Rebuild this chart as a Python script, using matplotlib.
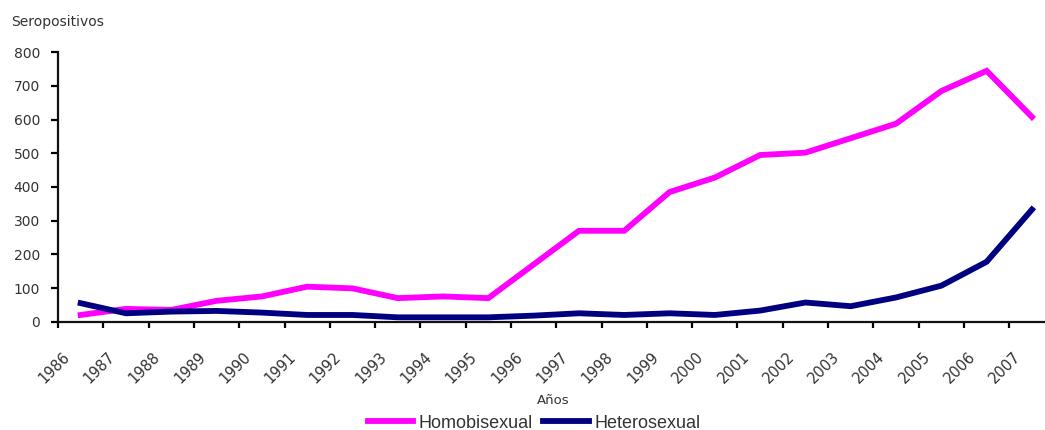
import numpy as np
import matplotlib.pyplot as plt
from matplotlib.transforms import ScaledTranslation

years = list(range(1986, 2008))
homobisexual = [20, 38, 35, 62, 75, 104, 99, 70, 75, 70, 170, 270, 270, 385, 428, 495, 502, 545, 588, 685, 745, 608]
heterosexual = [55, 25, 30, 32, 27, 20, 20, 13, 13, 13, 18, 25, 20, 25, 20, 33, 57, 46, 72, 107, 178, 333]

PINK = '#ff00ff'
NAVY = '#000080'
TEXT = '#333333'

fig = plt.figure(figsize=(10.45, 4.30), dpi=100)
# axis runs a little past the right edge of the figure
ax = fig.add_axes([58 / 1045, 1 - 321.7 / 430, 996.6 / 1045, (321.7 - 52.3) / 430])

x = np.arange(len(years))
ax.plot(x, homobisexual, color=PINK, lw=4.2, solid_joinstyle='miter', label='Homobisexual')
ax.plot(x, heterosexual, color=NAVY, lw=4.2, solid_joinstyle='miter', label='Heterosexual')

ax.set_xlim(-0.5, len(years) - 0.5)
ax.set_ylim(0, 800)
ax.set_yticks(range(0, 801, 100))

# category boundaries carry the ticks, year labels sit on them
bounds = np.arange(len(years) + 1) - 0.5
ax.set_xticks(bounds)
ax.set_xticklabels([str(y) for y in years] + [''], rotation=45, ha='center', va='top')

for s in ['top', 'right']:
    ax.spines[s].set_visible(False)
for s in ['left', 'bottom']:
    ax.spines[s].set_linewidth(1.6)
    ax.spines[s].set_color('#111111')
ax.tick_params(axis='y', length=5, width=1.6, pad=8, labelsize=10, labelcolor=TEXT)
ax.tick_params(axis='x', length=4, width=1.6, pad=16, labelsize=10.5, labelcolor=TEXT)
shift = ScaledTranslation(-4 / 100, 0, fig.dpi_scale_trans)
for lbl in ax.get_xticklabels():
    lbl.set_transform(lbl.get_transform() + shift)

fig.text(11 / 1045, 1 - 22 / 430, 'Seropositivos', fontsize=10, color=TEXT, va='center', ha='left')
fig.text(553 / 1045, 1 - 400 / 430, 'Años', fontsize=9.5, color=TEXT, va='center', ha='center')

fig.legend(loc='center', bbox_to_anchor=(534 / 1045, 1 - 423 / 430), ncol=2, frameon=False,
           prop={'family': 'Liberation Sans', 'size': 13}, handlelength=2.5,
           handletextpad=0.3, columnspacing=0.6, borderpad=0, labelcolor=TEXT)

fig.savefig('out.png', dpi=100)
